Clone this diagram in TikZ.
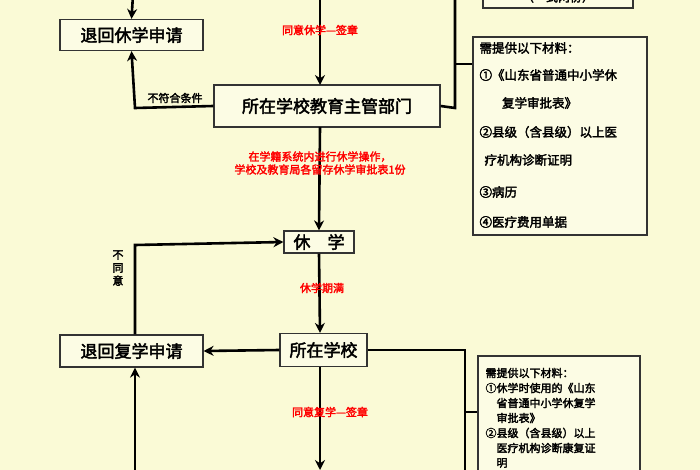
\documentclass[tikz,border=0pt]{standalone}
\usepackage{fontspec}
\usetikzlibrary{arrows.meta}
\setmainfont{Noto Sans CJK SC}[AutoFakeBold=2.5]
\definecolor{bg}{RGB}{250,250,214}
\definecolor{bx}{RGB}{252,252,228}
\begin{document}
\begin{tikzpicture}[x=1pt,y=-1pt,
  box/.style={draw=black!80,line width=1.2pt,fill=bx,inner sep=0pt,font=\bfseries\fontsize{17}{17}\selectfont},
  ln/.style={line width=2.6pt},
  arr/.style={line width=2.6pt,-{Stealth[length=10pt,width=10pt]}},
  red/.style={text=red,font=\bfseries\fontsize{11}{13}\selectfont,align=center},
  blk/.style={font=\bfseries\fontsize{11}{13}\selectfont},
  mat/.style={font=\bfseries\fontsize{12.5}{12.5}\selectfont,anchor=west}]
\fill[bg] (0,0) rectangle (700,470);
\useasboundingbox (0,0) rectangle (700,470);
\clip (0,0) rectangle (700,470);
\node[box,minimum width=143pt,minimum height=31pt] (tx) at (131.5,35) {退回休学申请};
\node[box,minimum width=226pt,minimum height=42pt] (zg) at (327,106) {所在学校教育主管部门};
\node[box,minimum width=70pt,minimum height=22pt] (xx) at (319,242) {休\hspace{1em}学};
\node[box,minimum width=87pt,minimum height=33pt] (sx) at (323.5,350) {所在学校};
\node[box,minimum width=143pt,minimum height=32pt] (fx) at (131.5,351) {退回复学申请};
\node[draw=black!80,line width=1.2pt,fill=bx,minimum width=150pt,minimum height=20pt] (top) at (558,-2) {};
\node[font=\bfseries\fontsize{12}{12}\selectfont] (tt) at (558,-3) {（一式两份）};
\node[draw=black!80,line width=1.2pt,fill=bx,minimum width=174pt,minimum height=198pt,inner sep=0pt] (m1) at (560,136) {};
\node[draw=black!80,line width=1.2pt,fill=bx,minimum width=162pt,minimum height=130pt,inner sep=0pt] (m2) at (559,421) {};
\node[mat] (a1) at (476,48) {需提供以下材料：};
\node[mat] (a2) at (476,75) {①《山东省普通中小学休};
\node[mat] (a3) at (476,103) {\hspace{1.8em}复学审批表》};
\node[mat] (a4) at (476,132) {②县级（含县级）以上医};
\node[mat] (a5) at (476,160) {\hspace{0.4em}疗机构诊断证明};
\node[mat] (a6) at (476,192) {③病历};
\node[mat] (a7) at (476,222) {④医疗费用单据};
\begin{scope}[every node/.style={font=\bfseries\fontsize{11}{11}\selectfont,anchor=west}]
\node (b1) at (482,373) {需提供以下材料：};
\node (b2) at (482,388) {①休学时使用的《山东};
\node (b3) at (482,403) {\hspace{1em}省普通中小学休复学};
\node (b4) at (482,418) {\hspace{1em}审批表》};
\node (b5) at (482,433) {②县级（含县级）以上};
\node (b6) at (482,448) {\hspace{1em}医疗机构诊断康复证};
\node (b7) at (482,463) {\hspace{1em}明};
\end{scope}
\coordinate (t1) at (133,-5);
\draw[arr] (t1) -- (tx.north);
\coordinate (t2) at (320,-5);
\draw[arr] (t2) -- (320,85);
\node[red] (r1) at (320,30) {同意休学—签章};
\coordinate (t3) at (455,-5);
\draw[ln] (t3) -- (455,108) -- (zg.east);
\draw[ln] (455,64) -- (m1.west|-455,64);
\draw[arr] (zg.west) -- (135,108) -- (tx.south);
\node[blk] (l1) at (175,98) {不符合条件};
\draw[arr] (320,127) -- (xx.north);
\node[red] (r2) at (320,163) {在学籍系统内进行休学操作，\\学校及教育局各留存休学审批表1份};
\draw[arr] (xx.south) -- (sx.north -| 320,0);
\node[red] (r3) at (322,288) {休学期满};
\draw[arr] (fx.north -| 135,0) -- (135,245) -- (xx.west);
\node[blk,align=center] (l2) at (118,268) {不\\同\\意};
\draw[arr] (sx.west) -- (fx.east);
\coordinate (b0) at (465,475);
\draw[ln] (sx.east) -- (465,350) -- (b0);
\draw[ln] (465,412) -- (m2.west|-465,412);
\coordinate (b9) at (320,470);
\draw[arr] (sx.south -| 320,0) -- (b9);
\node[red] (r4) at (330,412) {同意复学—签章};
\coordinate (b8) at (135,475);
\draw[arr] (b8) -- (fx.south -| 135,0);
\end{tikzpicture}
\end{document}
